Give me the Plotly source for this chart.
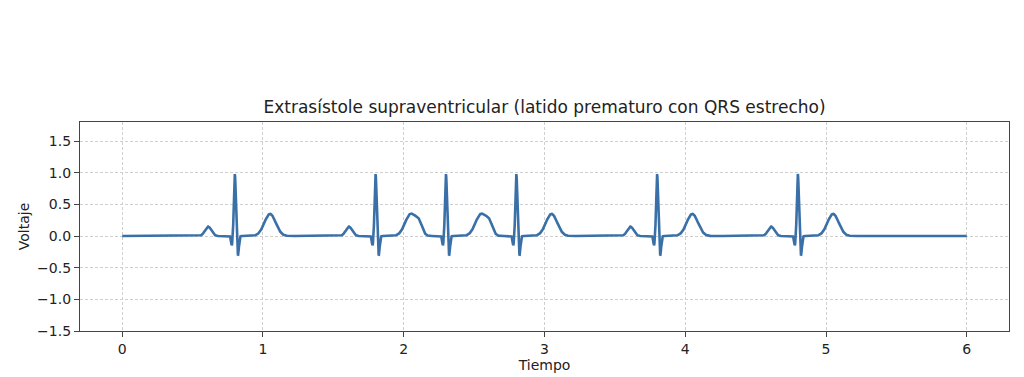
import numpy as np
import plotly.graph_objects as go

# Beat (R-peak) times, in seconds
r_times = [0.8, 1.8, 2.3, 2.8, 3.8, 4.8]
# Wave components: offset from R (s), amplitude (V), width sigma (s)
wave_names = ["P", "Q", "R", "S", "T"]
wave_offsets = [-0.19, -0.022, 0.0, 0.022, 0.25]
wave_amps = [0.15, -0.15, 0.98, -0.31, 0.35]
wave_sigmas = [0.022, 0.005, 0.0065, 0.0065, 0.04]

t_start, t_end, fs = 0.0, 6.0, 1000
t = np.linspace(t_start, t_end, int((t_end - t_start) * fs) + 1)
v = np.zeros_like(t)
for r in r_times:
    for off, a, s in zip(wave_offsets, wave_amps, wave_sigmas):
        v += a * np.exp(-((t - (r + off)) ** 2) / (2 * s ** 2))

x_ticks = [0, 1, 2, 3, 4, 5, 6]
y_ticks = [-1.5, -1.0, -0.5, 0.0, 0.5, 1.0, 1.5]
y_tick_text = ["\u22121.5", "\u22121.0", "\u22120.5", "0.0", "0.5", "1.0", "1.5"]

fig = go.Figure()
fig.add_trace(go.Scatter(x=t, y=v, mode="lines",
                         line=dict(color="#3a70a8", width=2.6), showlegend=False))

font = dict(family="DejaVu Sans", size=14, color="#222222")
axis_common = dict(showline=True, linecolor="#444444", linewidth=1.2, mirror=True,
                   ticks="outside", ticklen=5, tickcolor="#444444",
                   showgrid=True, gridcolor="#cfcfcf", gridwidth=0.8,
                   griddash="3px,2px", zeroline=False, tickfont=font,
                   automargin=False)

fig.update_layout(
    width=1024, height=377,
    margin=dict(l=80, r=15, t=122, b=46),
    paper_bgcolor="white", plot_bgcolor="white",
    title=dict(text="Extrasístole supraventricular (latido prematuro con QRS estrecho)",
               x=0.5, xref="paper", xanchor="center", y=1 - 107 / 377, yanchor="middle",
               font=dict(family="DejaVu Sans", size=17, color="#222222")),
    xaxis=dict(range=[-0.3, 6.3], tickvals=x_ticks,
               title=dict(text="Tiempo", font=font, standoff=4), **axis_common),
    yaxis=dict(range=[-1.5, 1.8], tickvals=y_ticks, ticktext=y_tick_text,
               title=dict(text="Voltaje", font=font, standoff=4), **axis_common),
)

fig.write_html("out.html", config={"displayModeBar": False},
               post_script="document.body.style.margin='0';document.body.style.overflow='hidden';")
